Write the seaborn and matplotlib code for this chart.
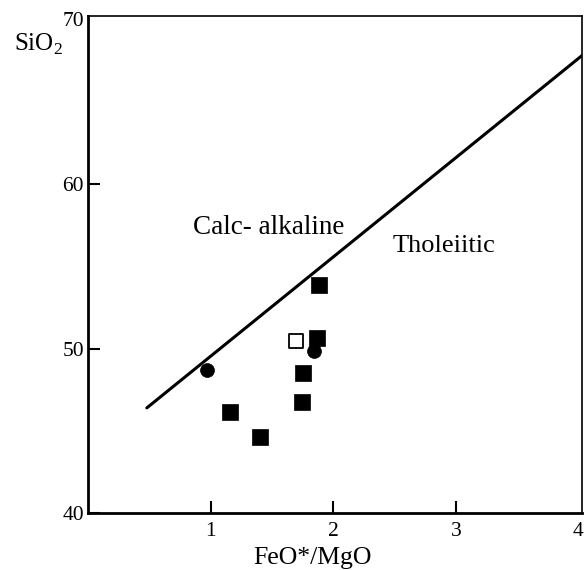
import matplotlib
matplotlib.use("Agg")
import matplotlib.pyplot as plt
import seaborn as sns

# Data
sq_x = [1.884, 1.871, 1.751, 1.746, 1.157, 1.407]
sq_y = [53.84, 50.65, 48.49, 46.73, 46.18, 44.65]
circ_x = [0.967, 1.844]
circ_y = [48.70, 49.88]
open_x = [1.695]
open_y = [50.49]
line_x = [0.48, 4.03]
line_y = [46.4, 67.8]
x_ticks = [1, 2, 3, 4]
y_ticks = [40, 50, 60, 70]

sns.set_theme(style="white")
plt.rcParams['font.family'] = ['Liberation Serif', 'DejaVu Serif']
plt.rcParams['mathtext.fontset'] = 'custom'
plt.rcParams['mathtext.rm'] = 'Liberation Serif'

fig = plt.figure(figsize=(5.85, 5.7), dpi=100)
ax = fig.add_axes([0.1504, 0.0995, 0.8445, 0.8724])

sns.lineplot(x=line_x, y=line_y, ax=ax, color="black", linewidth=2.2)
sns.scatterplot(x=sq_x, y=sq_y, ax=ax, marker="s", s=118, color="black",
                edgecolor="black", linewidth=0.5)
sns.scatterplot(x=circ_x, y=circ_y, ax=ax, marker="o", s=100, color="black",
                edgecolor="black", linewidth=0.5)
sns.scatterplot(x=open_x, y=open_y, ax=ax, marker="s", s=100, color="white",
                edgecolor="black", linewidth=1.3)

ax.set_xlim(0, 4.03)
ax.set_ylim(40, 70.2)
ax.set_xticks(x_ticks)
ax.set_yticks(y_ticks)
ax.set_xticklabels([str(t) for t in x_ticks], fontsize=15.5)
ax.set_yticklabels([str(t) for t in y_ticks], fontsize=15.5)
ax.tick_params(axis="both", direction="in", length=8.5, width=1.5, colors="black",
               left=True, bottom=True)
ax.tick_params(axis="x", pad=6)
ax.tick_params(axis="y", pad=3)
# hide tick marks that coincide with the frame (70 and 4)
ax.yaxis.get_major_ticks()[-1].tick1line.set_visible(False)
ax.xaxis.get_major_ticks()[-1].tick1line.set_visible(False)
for side in ["left", "bottom"]:
    ax.spines[side].set_linewidth(2)
    ax.spines[side].set_color("black")
for side in ["top", "right"]:
    ax.spines[side].set_linewidth(1.2)
    ax.spines[side].set_color("black")
ax.set_facecolor("white")
ax.grid(False)

ax.text(0.855, 57.35, "Calc- alkaline", fontsize=19.5, color="black", va="center", ha="left")
ax.text(2.485, 56.25, "Tholeiitic", fontsize=19, color="black", va="center", ha="left")

fig.text(14 / 585, 1 - 44 / 570, "SiO$_2$", fontsize=18, color="black", va="center", ha="left")
fig.text(312 / 585, 1 - 564 / 570, "FeO*/MgO", fontsize=18.5, color="black", va="baseline", ha="center")

fig.savefig("out.png", dpi=100, facecolor="white")
